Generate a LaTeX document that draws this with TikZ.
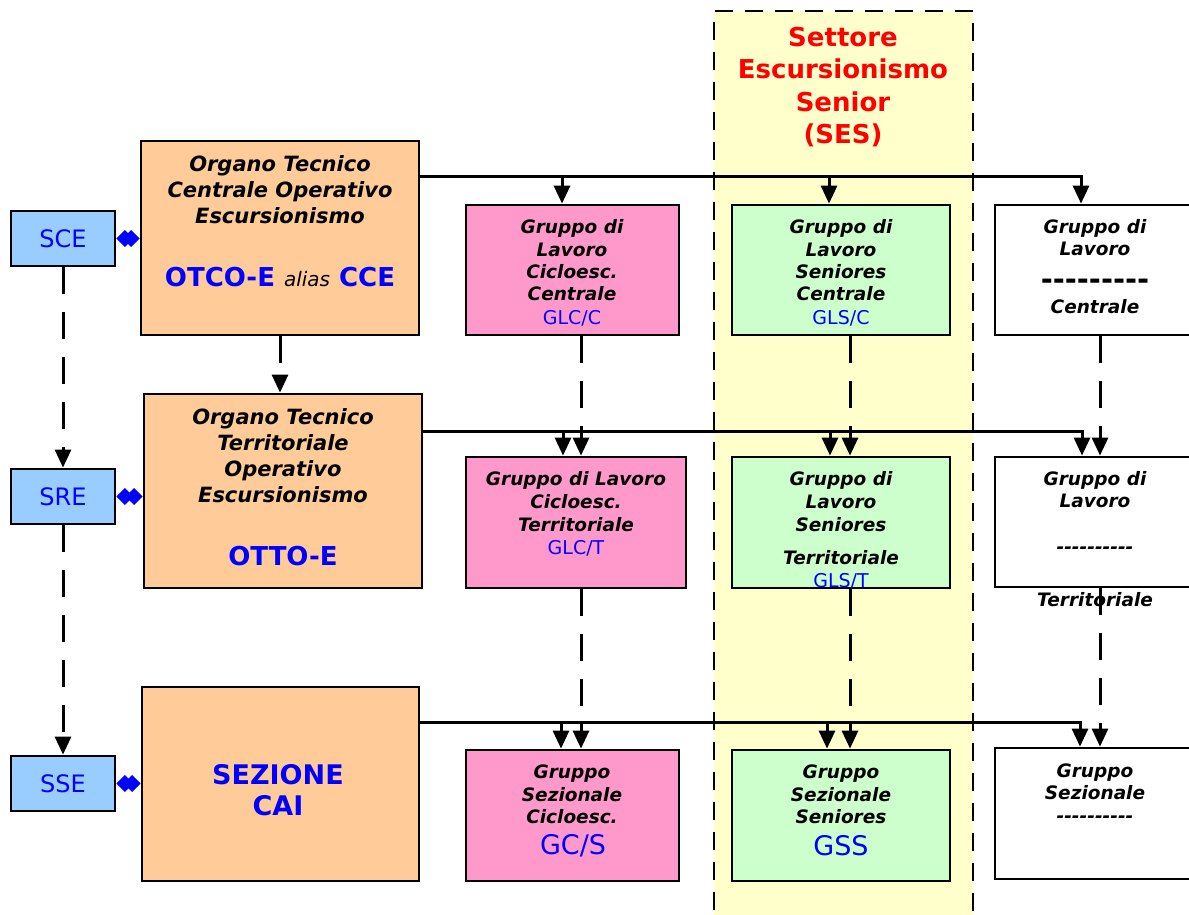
\documentclass[tikz,border=0pt]{standalone}
\usepackage{fontspec}
\setmainfont{DejaVu Sans}
\usetikzlibrary{arrows.meta}
\definecolor{peach}{HTML}{FFCC99}
\definecolor{pinkbox}{HTML}{FF99CC}
\definecolor{greenbox}{HTML}{CCFFCC}
\definecolor{bluebox}{HTML}{99CCFF}
\definecolor{sesyellow}{HTML}{FFFFCC}
\definecolor{txtblue}{HTML}{0000FF}
\definecolor{sesred}{HTML}{FF0000}
\newcommand\fs[2]{\fontsize{#1}{#2}\selectfont}
\tikzset{
  box/.style={draw=black, line width=2.8pt, inner sep=0pt},
  tbi/.style={font=\fs{18.5}{22.4}\bfseries\itshape, align=center, inner sep=0pt},
  tbig/.style={font=\fs{21}{26}\bfseries\itshape, align=center, inner sep=0pt},
  acr/.style={font=\fs{19}{22}, text=txtblue, inner sep=0pt},
  acrbig/.style={font=\fs{27}{30}, text=txtblue, inner sep=0pt},
  head/.style={font=\fs{26}{30}\bfseries, text=txtblue, align=center, inner sep=0pt},
  sbox/.style={box, fill=bluebox, minimum width=104, minimum height=55, font=\fs{24}{26}, text=txtblue},
  conn/.style={line width=3pt, draw=black},
  arr/.style={conn, -{Triangle[length=18pt,width=16pt]}},
  darr/.style={arr, dash pattern=on 27pt off 18pt},
  link/.style={line width=2pt, draw=txtblue, {Diamond[length=17pt,width=17pt,fill=txtblue]}-{Diamond[length=17pt,width=17pt,fill=txtblue]}},
}
\begin{document}
\begin{tikzpicture}[x=1pt,y=-1pt]
\useasboundingbox (0,0) rectangle (1189,915);
% SES band
\fill[sesyellow] (714,11) rectangle (973,940);
\draw[line width=2.5pt, dash pattern=on 18pt off 12pt] (714,940) -- (714,11) -- (973,11) -- (973,940);
\node[font=\fs{26}{32.5}\bfseries, text=sesred, align=center, inner sep=0pt] (sesT) at (843,87) {Settore\\Escursionismo\\Senior\\(SES)};

% left column
\node[sbox] (sce) at (63,238.5) {SCE};
\node[sbox] (sre) at (63,496.5) {SRE};
\node[sbox] (sse) at (63,783.5) {SSE};

% organs
\node[box, fill=peach, minimum width=278, minimum height=194] (otco) at (280,238) {};
\node[tbig] (otcoT) at (280,190) {Organo Tecnico\\Centrale Operativo\\Escursionismo};
\node[inner sep=0pt] (otcoA) at (280,277) {{\fs{26}{30}\bfseries\color{txtblue}OTCO-E}\hspace{9pt}{\fs{20}{24}\itshape alias}\hspace{9pt}{\fs{26}{30}\bfseries\color{txtblue}CCE}};

\node[box, fill=peach, minimum width=278, minimum height=194] (otto) at (283,491) {};
\node[tbig] (ottoT) at (283,456) {Organo Tecnico\\Territoriale\\Operativo\\Escursionismo};
\node[head] (ottoA) at (283,556) {OTTO-E};

\node[box, fill=peach, minimum width=277, minimum height=194] (sez) at (280.5,784) {};
\node[head, font=\fs{27}{31}\bfseries] (sezT) at (278,790) {SEZIONE\\CAI};

% pink column
\node[box, fill=pinkbox, minimum width=213, minimum height=130] (glcc) at (572.5,270) {};
\node[tbi] (glccT) at (572,260.5) {Gruppo di\\Lavoro\\Cicloesc.\\Centrale};
\node[acr] (glccA) at (572,318) {GLC/C};

\node[box, fill=pinkbox, minimum width=220, minimum height=131] (glct) at (576,522.5) {};
\node[tbi, font=\fs{18.5}{23}\bfseries\itshape] (glctT) at (576,502) {Gruppo di Lavoro\\Cicloesc.\\Territoriale};
\node[acr] (glctA) at (576,548) {GLC/T};

\node[box, fill=pinkbox, minimum width=213, minimum height=131] (gcs) at (572.5,815.5) {};
\node[tbi] (gcsT) at (572,794.5) {Gruppo\\Sezionale\\Cicloesc.};
\node[acrbig] (gcsA) at (573,846) {GC/S};

% green column
\node[box, fill=greenbox, minimum width=218, minimum height=130] (glsc) at (841,270) {};
\node[tbi] (glscT) at (841,260.5) {Gruppo di\\Lavoro\\Seniores\\Centrale};
\node[acr] (glscA) at (841,318) {GLS/C};

\node[box, fill=greenbox, minimum width=218, minimum height=131] (glst) at (841,522.5) {};
\node[tbi, font=\fs{18.5}{23}\bfseries\itshape] (glstT) at (841,502) {Gruppo di\\Lavoro\\Seniores};
\node[tbi] (glstT2) at (841,558) {Territoriale};
\node[acr] (glstA) at (841,581) {GLS/T};

\node[box, fill=greenbox, minimum width=218, minimum height=131] (gss) at (841,815.5) {};
\node[tbi] (gssT) at (841,794.5) {Gruppo\\Sezionale\\Seniores};
\node[acrbig] (gssA) at (841,846) {GSS};

% white column
\node[box, fill=white, minimum width=205, minimum height=130] (wc) at (1097.5,270) {};
\node[tbi, font=\fs{18.5}{22}\bfseries\itshape] (wcT) at (1095,238) {Gruppo di\\Lavoro};
\node[inner sep=0pt, font=\fs{29}{30}\bfseries] (wcD) at (1095,284) {-{}-{}-{}-{}-{}-{}-{}-{}-};
\node[tbi] (wcT2) at (1095,307) {Centrale};

\node[box, fill=white, minimum width=205, minimum height=130] (wt) at (1097.5,522) {};
\node[tbi, font=\fs{18.5}{22}\bfseries\itshape] (wtT) at (1095,490) {Gruppo di\\Lavoro};
\node[tbi] (wtD) at (1095,550) {-{}-{}-{}-{}-{}-{}-{}-{}-{}-};
\node[tbi] (wtT2) at (1095,600) {Territoriale};

\node[box, fill=white, minimum width=205, minimum height=131] (ws) at (1097.5,813.5) {};
\node[tbi, font=\fs{18.5}{22}\bfseries\itshape] (wsT) at (1095,782) {Gruppo\\Sezionale};
\node[tbi] (wsD) at (1095,819) {-{}-{}-{}-{}-{}-{}-{}-{}-{}-};

% links between secretariats and organs
\draw[link] (sce.east) -- (otco.west |- sce.east);
\draw[link] (sre.east) -- (otto.west |- sre.east);
\draw[link] (sse.east) -- (sez.west |- sse.east);

% left dashed hierarchy
\draw[darr] (sce.south) -- (sre.north);
\draw[darr] (sre.south) -- (sse.north);
\draw[darr] (280,0 |- otco.south) -- (280,0 |- otto.north);

% buses
\draw[arr] (otco.east |- 0,177) -| (1081,0 |- wc.north);
\draw[arr] (562,177) -- (562,0 |- glcc.north);
\draw[arr] (829,177) -- (829,0 |- glsc.north);

\draw[arr] (otto.east |- 0,431) -| (1082,0 |- wt.north);
\draw[arr] (563,431) -- (563,0 |- glct.north);
\draw[arr] (830,431) -- (830,0 |- glst.north);

\draw[arr] (sez.east |- 0,722) -| (1080,0 |- ws.north);
\draw[arr] (561,722) -- (561,0 |- gcs.north);
\draw[arr] (827,722) -- (827,0 |- gss.north);

% dashed verticals
\draw[darr] (581,0 |- glcc.south) -- (581,0 |- glct.north);
\draw[darr] (581,0 |- glct.south) -- (581,0 |- gcs.north);
\draw[darr] (850,0 |- glsc.south) -- (850,0 |- glst.north);
\draw[darr] (850,0 |- glst.south) -- (850,0 |- gss.north);
\draw[darr] (1100,0 |- wc.south) -- (1100,0 |- wt.north);
\draw[darr] (1100,0 |- wt.south) -- (1100,0 |- ws.north);
\end{tikzpicture}
\end{document}
